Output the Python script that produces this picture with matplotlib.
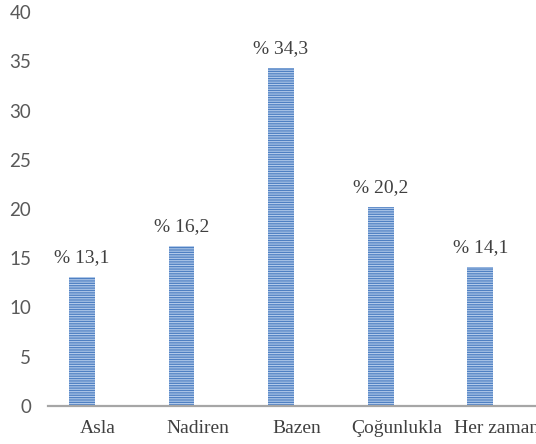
import matplotlib
matplotlib.use("Agg")
import matplotlib.pyplot as plt
import matplotlib.transforms as mtransforms
import numpy as np

categories = ["Asla", "Nadiren", "Bazen", "Çoğunlukla", "Her zaman"]
values = [13.1, 16.2, 34.3, 20.2, 14.1]
value_labels = ["% 13,1", "% 16,2", "% 34,3", "% 20,2", "% 14,1"]
yticks = [0, 5, 10, 15, 20, 25, 30, 35, 40]

plt.rcParams['hatch.linewidth'] = 0.8

W, H = 536, 444
fig = plt.figure(figsize=(W / 100, H / 100), dpi=100)
left, right, top, bottom = 48, 536, 12, 406
ax = fig.add_axes([left / W, 1 - bottom / H, (right - left) / W, (bottom - top) / H])

x = np.arange(len(categories))
bars = ax.bar(x, values, width=0.26, color="#4F80C2", edgecolor="#B3CBEB",
              linewidth=0, hatch="-------", zorder=2)

ax.set_xlim(-0.34, 4.56)
ax.set_ylim(0, 40)
ax.set_yticks(yticks)
ax.set_yticklabels([str(v) for v in yticks], fontfamily="Lato", fontsize=13.5, color="#595959")
ax.set_xticks(x)
ax.set_xticklabels(categories, fontfamily="Liberation Serif", fontsize=14, color="#404040")
ax.tick_params(axis="both", length=0)
ax.tick_params(axis="y", pad=12)
ax.tick_params(axis="x", pad=10)

offset = mtransforms.ScaledTranslation(0.16, 0, fig.dpi_scale_trans)
for lab in ax.get_xticklabels():
    lab.set_transform(lab.get_transform() + offset)

for s in ["top", "right", "left"]:
    ax.spines[s].set_visible(False)
ax.spines["bottom"].set_color("#A6A6A6")
ax.spines["bottom"].set_linewidth(1.6)
ax.spines["bottom"].set_zorder(3)

for xi, v, lab in zip(x, values, value_labels):
    ax.annotate(lab, (xi, v), xytext=(0, 8), textcoords="offset points",
                ha="center", va="bottom", fontfamily="Liberation Serif",
                fontsize=14, color="#404040")

fig.savefig("out.png", dpi=100)
